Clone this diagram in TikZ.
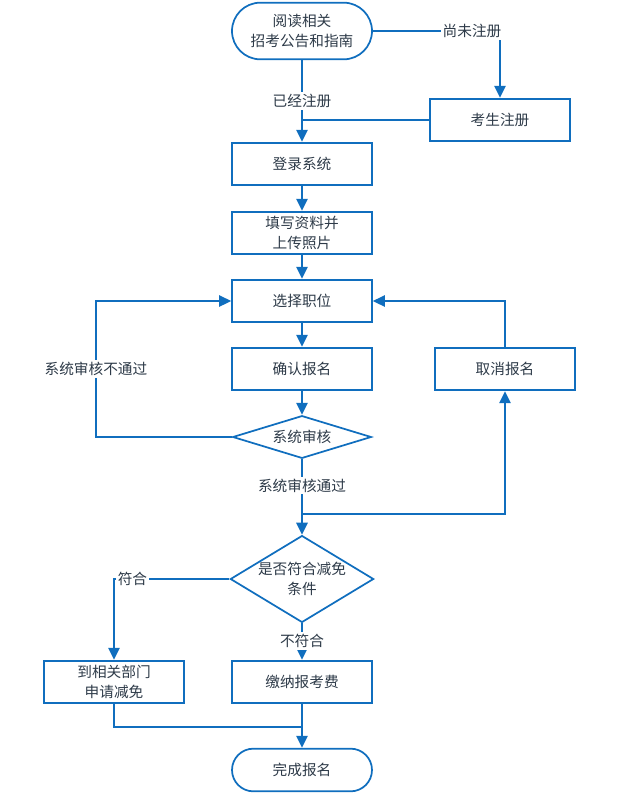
\documentclass[tikz,border=0pt]{standalone}
\usepackage{fontspec}
\setmainfont{Noto Sans CJK SC}
\usetikzlibrary{shapes.geometric,shapes.misc,arrows.meta}
\definecolor{liucheng}{RGB}{16,110,190}
\definecolor{wenzi}{RGB}{45,58,72}
\tikzset{
  kuang/.style={draw=liucheng,line width=1.3pt,rectangle,minimum width=105pt,minimum height=32pt,inner sep=0pt,align=center,text=wenzi,font=\fontsize{11}{15}\selectfont},
  yuanjiao/.style={kuang,rounded rectangle},
  panduan/.style={kuang,diamond,minimum width=104pt,minimum height=32pt},
  liu/.style={draw=liucheng,line width=1.3pt,-{Triangle[length=9pt,width=8.5pt]}},
  xian/.style={draw=liucheng,line width=1.3pt},
  biaoqian/.style={fill=white,inner sep=1.5pt,text=wenzi,font=\fontsize{11}{15}\selectfont}
}
\begin{document}
\begin{tikzpicture}[x=0.75pt,y=0.75pt,yscale=-1,xscale=1]
\useasboundingbox (0,0) rectangle (620,800);

%=====Kuang=======
\node [yuanjiao,minimum height=42.5pt] (kaishi) at (302,31) {阅读相关\\招考公告和指南};
\node [kuang] (zhuce) at (500,120) {考生注册};
\node [kuang] (denglu) at (302,164) {登录系统};
\node [kuang] (tianxie) at (302,233) {填写资料并\\上传照片};
\node [kuang] (xuanze) at (302,301) {选择职位};
\node [kuang] (queren) at (302,369) {确认报名};
\node [kuang] (quxiao) at (505,369) {取消报名};
\node [panduan,shape aspect=3.3] (shenhe) at (302,437) {系统审核};
\node [panduan,shape aspect=1.65,minimum height=58pt] (jianmian) at (302,579) {是否符合减免\\条件};
\node [kuang] (shenqing) at (114,682) {到相关部门\\申请减免};
\node [kuang] (jiaona) at (302,682) {缴纳报考费};
\node [yuanjiao] (wancheng) at (302,770) {完成报名};

\coordinate (butongguo) at (96,437);
\coordinate (tongguo) at (302,514);
\coordinate (huihe) at (302,727);

%=====Liu=======
\draw [liu] (kaishi.east) -| node [biaoqian,pos=0.39] {尚未注册} (zhuce.north);
\draw [liu] (kaishi.south) -- node [biaoqian,pos=0.5] {已经注册} (denglu.north);
\draw [xian] (zhuce.west) -- (zhuce.west -| denglu.north);
\draw [liu] (denglu) -- (tianxie);
\draw [liu] (tianxie) -- (xuanze);
\draw [liu] (xuanze) -- (queren);
\draw [liu] (queren) -- (shenhe);
\draw [liu] (shenhe.west) -- (butongguo) |- node [biaoqian,pos=0.25] {系统审核不通过} (xuanze.west);
\draw [liu] (quxiao.north) |- (xuanze.east);
\draw [liu] (shenhe.south) -- node [biaoqian,pos=0.35] {系统审核通过} (jianmian.north);
\draw [liu] (tongguo) -| (quxiao.south);
\draw [liu] (jianmian.west) -| node [biaoqian,pos=0.42] {符合} (shenqing.north);
\draw [liu] (jianmian.south) -- node [biaoqian,pos=0.48] {不符合} (jiaona.north);
\draw [xian] (shenqing.south) |- (huihe);
\draw [liu] (jiaona) -- (wancheng);

\end{tikzpicture}
\end{document}
